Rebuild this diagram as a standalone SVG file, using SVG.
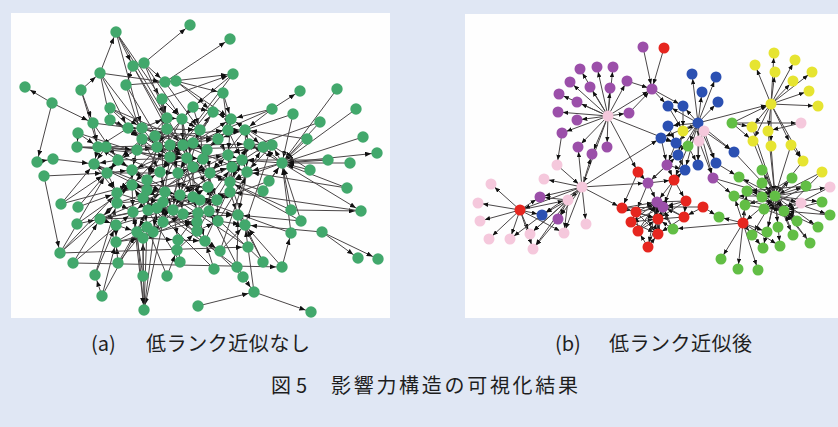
<svg xmlns="http://www.w3.org/2000/svg" width="838" height="427" viewBox="0 0 838 427">
<defs>
<marker id="ah" viewBox="0 0 6 5" markerWidth="6" markerHeight="5" refX="12" refY="2.5" orient="auto" markerUnits="userSpaceOnUse"><path d="M0,0 L6,2.5 L0,5 z" fill="#111"/></marker>
<marker id="ah2" viewBox="0 0 6 5" markerWidth="5.5" markerHeight="4.5" refX="11.5" refY="2.5" orient="auto" markerUnits="userSpaceOnUse"><path d="M0,0 L6,2.5 L0,5 z" fill="#111"/></marker>
</defs>
<style>
.bg{fill:#e0e7f4}
.panel{fill:#fefefe}
#edgesL line{stroke:#4a4647;stroke-width:1;marker-end:url(#ah)}
#edgesR line{stroke:#4a4647;stroke-width:1;marker-end:url(#ah2)}
.nl{fill:#42a86c}
.pk{fill:#f5c8dc}
.pu{fill:#9b4fa9}
.rd{fill:#e6261f}
.bl{fill:#2b50b2}
.ye{fill:#e6e431}
.gr{fill:#62be45}
.cap{font-family:"Noto Sans CJK JP","Noto Sans",sans-serif;font-size:20px;font-weight:400;fill:#1e1e1e}
</style>
<rect class="bg" x="0" y="0" width="838" height="427"/>
<rect class="panel" x="11" y="13" width="379" height="305"/>
<rect class="panel" x="465" y="14" width="373" height="304"/>

<g id="edgesL">
<line x1="144" y1="63" x2="190" y2="25"/>
<line x1="100" y1="73" x2="116" y2="32"/>
<line x1="116" y1="32" x2="133" y2="66"/>
<line x1="116" y1="32" x2="167" y2="118"/>
<line x1="116" y1="32" x2="142" y2="128"/>
<line x1="116" y1="32" x2="162" y2="99"/>
<line x1="165" y1="82" x2="230" y2="39"/>
<line x1="133" y1="66" x2="126" y2="85"/>
<line x1="133" y1="66" x2="167" y2="129"/>
<line x1="144" y1="63" x2="182" y2="119"/>
<line x1="144" y1="63" x2="167" y2="118"/>
<line x1="144" y1="63" x2="165" y2="82"/>
<line x1="100" y1="73" x2="165" y2="82"/>
<line x1="81" y1="90" x2="100" y2="73"/>
<line x1="100" y1="73" x2="142" y2="128"/>
<line x1="100" y1="73" x2="128" y2="128"/>
<line x1="100" y1="73" x2="110" y2="120"/>
<line x1="126" y1="85" x2="142" y2="139"/>
<line x1="126" y1="85" x2="176" y2="81"/>
<line x1="165" y1="82" x2="233" y2="74"/>
<line x1="165" y1="82" x2="200" y2="130"/>
<line x1="176" y1="81" x2="223" y2="93"/>
<line x1="176" y1="81" x2="231" y2="119"/>
<line x1="176" y1="81" x2="213" y2="112"/>
<line x1="162" y1="99" x2="233" y2="74"/>
<line x1="223" y1="93" x2="228" y2="130"/>
<line x1="233" y1="74" x2="193" y2="107"/>
<line x1="52" y1="103" x2="25" y2="87"/>
<line x1="52" y1="103" x2="93" y2="123"/>
<line x1="52" y1="103" x2="37" y2="162"/>
<line x1="81" y1="90" x2="98" y2="147"/>
<line x1="81" y1="90" x2="93" y2="123"/>
<line x1="272" y1="109" x2="300" y2="91"/>
<line x1="293" y1="114" x2="282" y2="163"/>
<line x1="337" y1="89" x2="282" y2="163"/>
<line x1="356" y1="109" x2="282" y2="163"/>
<line x1="363" y1="137" x2="282" y2="163"/>
<line x1="282" y1="163" x2="377" y2="153"/>
<line x1="320" y1="122" x2="282" y2="163"/>
<line x1="307" y1="139" x2="282" y2="163"/>
<line x1="272" y1="109" x2="245" y2="130"/>
<line x1="272" y1="109" x2="231" y2="119"/>
<line x1="193" y1="107" x2="200" y2="130"/>
<line x1="193" y1="107" x2="213" y2="112"/>
<line x1="193" y1="107" x2="182" y2="119"/>
<line x1="223" y1="93" x2="231" y2="119"/>
<line x1="162" y1="99" x2="167" y2="118"/>
<line x1="162" y1="99" x2="182" y2="119"/>
<line x1="162" y1="99" x2="167" y2="129"/>
<line x1="110" y1="108" x2="142" y2="128"/>
<line x1="110" y1="108" x2="142" y2="139"/>
<line x1="93" y1="123" x2="118" y2="160"/>
<line x1="93" y1="123" x2="98" y2="147"/>
<line x1="110" y1="120" x2="128" y2="128"/>
<line x1="110" y1="120" x2="142" y2="139"/>
<line x1="78" y1="133" x2="98" y2="147"/>
<line x1="78" y1="133" x2="77" y2="147"/>
<line x1="53" y1="159" x2="94" y2="164"/>
<line x1="37" y1="162" x2="53" y2="159"/>
<line x1="44" y1="176" x2="107" y2="173"/>
<line x1="44" y1="176" x2="60" y2="253"/>
<line x1="77" y1="147" x2="137" y2="150"/>
<line x1="77" y1="147" x2="106" y2="147"/>
<line x1="328" y1="160" x2="282" y2="163"/>
<line x1="350" y1="163" x2="282" y2="163"/>
<line x1="310" y1="170" x2="282" y2="163"/>
<line x1="347" y1="188" x2="282" y2="163"/>
<line x1="269" y1="181" x2="282" y2="163"/>
<line x1="263" y1="191" x2="282" y2="163"/>
<line x1="282" y1="163" x2="361" y2="211"/>
<line x1="291" y1="210" x2="282" y2="163"/>
<line x1="301" y1="221" x2="282" y2="163"/>
<line x1="291" y1="233" x2="282" y2="163"/>
<line x1="282" y1="163" x2="272" y2="145"/>
<line x1="282" y1="163" x2="263" y2="147"/>
<line x1="282" y1="163" x2="242" y2="160"/>
<line x1="282" y1="163" x2="247" y2="172"/>
<line x1="282" y1="163" x2="249" y2="144"/>
<line x1="291" y1="210" x2="361" y2="211"/>
<line x1="322" y1="232" x2="358" y2="258"/>
<line x1="322" y1="232" x2="378" y2="259"/>
<line x1="254" y1="292" x2="311" y2="312"/>
<line x1="198" y1="306" x2="254" y2="292"/>
<line x1="254" y1="292" x2="245" y2="225"/>
<line x1="243" y1="277" x2="254" y2="292"/>
<line x1="263" y1="262" x2="238" y2="215"/>
<line x1="263" y1="262" x2="245" y2="225"/>
<line x1="282" y1="267" x2="291" y2="233"/>
<line x1="282" y1="267" x2="245" y2="225"/>
<line x1="237" y1="267" x2="238" y2="215"/>
<line x1="243" y1="277" x2="209" y2="211"/>
<line x1="214" y1="269" x2="205" y2="241"/>
<line x1="180" y1="262" x2="178" y2="240"/>
<line x1="167" y1="276" x2="177" y2="250"/>
<line x1="143" y1="276" x2="143" y2="238"/>
<line x1="137" y1="232" x2="144" y2="310"/>
<line x1="147" y1="227" x2="144" y2="310"/>
<line x1="163" y1="222" x2="144" y2="310"/>
<line x1="133" y1="212" x2="144" y2="310"/>
<line x1="143" y1="238" x2="144" y2="310"/>
<line x1="102" y1="296" x2="137" y2="232"/>
<line x1="102" y1="296" x2="95" y2="275"/>
<line x1="118" y1="263" x2="116" y2="242"/>
<line x1="118" y1="263" x2="147" y2="227"/>
<line x1="95" y1="275" x2="116" y2="225"/>
<line x1="73" y1="263" x2="100" y2="219"/>
<line x1="60" y1="253" x2="117" y2="203"/>
<line x1="60" y1="253" x2="107" y2="173"/>
<line x1="61" y1="204" x2="107" y2="173"/>
<line x1="61" y1="204" x2="132" y2="185"/>
<line x1="78" y1="207" x2="117" y2="193"/>
<line x1="77" y1="224" x2="100" y2="219"/>
<line x1="73" y1="263" x2="282" y2="267"/>
<line x1="60" y1="253" x2="248" y2="247"/>
<line x1="142" y1="128" x2="247" y2="172"/>
<line x1="167" y1="118" x2="208" y2="187"/>
<line x1="142" y1="139" x2="217" y2="200"/>
<line x1="118" y1="160" x2="218" y2="221"/>
<line x1="98" y1="147" x2="249" y2="144"/>
<line x1="137" y1="150" x2="263" y2="147"/>
<line x1="132" y1="170" x2="272" y2="145"/>
<line x1="117" y1="193" x2="242" y2="160"/>
<line x1="117" y1="203" x2="232" y2="167"/>
<line x1="100" y1="219" x2="238" y2="215"/>
<line x1="116" y1="225" x2="230" y2="192"/>
<line x1="116" y1="242" x2="208" y2="187"/>
<line x1="143" y1="238" x2="209" y2="211"/>
<line x1="132" y1="185" x2="220" y2="251"/>
<line x1="78" y1="133" x2="230" y2="182"/>
<line x1="77" y1="147" x2="203" y2="159"/>
<line x1="93" y1="123" x2="218" y2="139"/>
<line x1="110" y1="108" x2="207" y2="150"/>
<line x1="110" y1="120" x2="210" y2="173"/>
<line x1="126" y1="85" x2="193" y2="197"/>
<line x1="133" y1="66" x2="193" y2="167"/>
<line x1="162" y1="99" x2="163" y2="202"/>
<line x1="193" y1="107" x2="117" y2="193"/>
<line x1="223" y1="93" x2="160" y2="172"/>
<line x1="233" y1="74" x2="170" y2="157"/>
<line x1="272" y1="109" x2="132" y2="170"/>
<line x1="293" y1="114" x2="218" y2="139"/>
<line x1="320" y1="122" x2="228" y2="155"/>
<line x1="307" y1="139" x2="245" y2="130"/>
<line x1="328" y1="160" x2="242" y2="160"/>
<line x1="310" y1="170" x2="231" y2="119"/>
<line x1="269" y1="181" x2="217" y2="200"/>
<line x1="263" y1="191" x2="193" y2="167"/>
<line x1="291" y1="210" x2="210" y2="173"/>
<line x1="301" y1="221" x2="230" y2="182"/>
<line x1="291" y1="233" x2="200" y2="200"/>
<line x1="248" y1="247" x2="165" y2="192"/>
<line x1="263" y1="262" x2="209" y2="211"/>
<line x1="237" y1="267" x2="157" y2="208"/>
<line x1="243" y1="277" x2="163" y2="202"/>
<line x1="214" y1="269" x2="143" y2="198"/>
<line x1="180" y1="262" x2="132" y2="185"/>
<line x1="167" y1="276" x2="147" y2="227"/>
<line x1="143" y1="276" x2="133" y2="212"/>
<line x1="144" y1="310" x2="157" y2="208"/>
<line x1="102" y1="296" x2="116" y2="242"/>
<line x1="118" y1="263" x2="148" y2="210"/>
<line x1="95" y1="275" x2="117" y2="203"/>
<line x1="73" y1="263" x2="133" y2="212"/>
<line x1="60" y1="253" x2="117" y2="193"/>
<line x1="77" y1="224" x2="132" y2="185"/>
<line x1="78" y1="207" x2="118" y2="160"/>
<line x1="61" y1="204" x2="94" y2="164"/>
<line x1="282" y1="163" x2="230" y2="182"/>
<line x1="347" y1="188" x2="247" y2="172"/>
<line x1="301" y1="221" x2="238" y2="215"/>
<line x1="322" y1="232" x2="245" y2="225"/>
<line x1="361" y1="211" x2="230" y2="192"/>
<line x1="142" y1="128" x2="142" y2="139"/>
<line x1="142" y1="128" x2="167" y2="118"/>
<line x1="142" y1="128" x2="157" y2="147"/>
<line x1="142" y1="128" x2="132" y2="170"/>
<line x1="142" y1="128" x2="200" y2="130"/>
<line x1="167" y1="118" x2="182" y2="119"/>
<line x1="167" y1="118" x2="167" y2="129"/>
<line x1="167" y1="118" x2="170" y2="157"/>
<line x1="167" y1="118" x2="147" y2="180"/>
<line x1="182" y1="119" x2="200" y2="130"/>
<line x1="182" y1="119" x2="183" y2="145"/>
<line x1="182" y1="119" x2="187" y2="158"/>
<line x1="182" y1="119" x2="193" y2="167"/>
<line x1="200" y1="130" x2="213" y2="112"/>
<line x1="200" y1="130" x2="193" y2="143"/>
<line x1="200" y1="130" x2="203" y2="159"/>
<line x1="200" y1="130" x2="180" y2="195"/>
<line x1="218" y1="139" x2="228" y2="130"/>
<line x1="218" y1="139" x2="207" y2="150"/>
<line x1="218" y1="139" x2="228" y2="155"/>
<line x1="218" y1="139" x2="232" y2="167"/>
<line x1="228" y1="130" x2="245" y2="130"/>
<line x1="228" y1="130" x2="231" y2="119"/>
<line x1="228" y1="130" x2="242" y2="160"/>
<line x1="245" y1="130" x2="249" y2="144"/>
<line x1="245" y1="130" x2="263" y2="147"/>
<line x1="245" y1="130" x2="247" y2="172"/>
<line x1="249" y1="144" x2="272" y2="145"/>
<line x1="249" y1="144" x2="242" y2="160"/>
<line x1="249" y1="144" x2="230" y2="182"/>
<line x1="263" y1="147" x2="232" y2="167"/>
<line x1="272" y1="145" x2="247" y2="172"/>
<line x1="231" y1="119" x2="213" y2="112"/>
<line x1="231" y1="119" x2="228" y2="155"/>
<line x1="213" y1="112" x2="193" y2="143"/>
<line x1="142" y1="139" x2="137" y2="150"/>
<line x1="142" y1="139" x2="118" y2="160"/>
<line x1="142" y1="139" x2="160" y2="172"/>
<line x1="167" y1="129" x2="183" y2="145"/>
<line x1="167" y1="129" x2="157" y2="147"/>
<line x1="167" y1="129" x2="178" y2="173"/>
<line x1="183" y1="145" x2="193" y2="143"/>
<line x1="183" y1="145" x2="170" y2="157"/>
<line x1="183" y1="145" x2="193" y2="197"/>
<line x1="193" y1="143" x2="207" y2="150"/>
<line x1="193" y1="143" x2="187" y2="158"/>
<line x1="207" y1="150" x2="203" y2="159"/>
<line x1="207" y1="150" x2="210" y2="173"/>
<line x1="137" y1="150" x2="157" y2="147"/>
<line x1="137" y1="150" x2="118" y2="160"/>
<line x1="137" y1="150" x2="132" y2="170"/>
<line x1="157" y1="147" x2="170" y2="157"/>
<line x1="157" y1="147" x2="147" y2="180"/>
<line x1="157" y1="147" x2="143" y2="198"/>
<line x1="170" y1="157" x2="187" y2="158"/>
<line x1="170" y1="157" x2="160" y2="172"/>
<line x1="170" y1="157" x2="163" y2="202"/>
<line x1="187" y1="158" x2="203" y2="159"/>
<line x1="187" y1="158" x2="178" y2="173"/>
<line x1="187" y1="158" x2="200" y2="200"/>
<line x1="203" y1="159" x2="228" y2="155"/>
<line x1="203" y1="159" x2="193" y2="167"/>
<line x1="203" y1="159" x2="217" y2="200"/>
<line x1="228" y1="155" x2="242" y2="160"/>
<line x1="228" y1="155" x2="210" y2="173"/>
<line x1="228" y1="155" x2="230" y2="192"/>
<line x1="242" y1="160" x2="247" y2="172"/>
<line x1="242" y1="160" x2="230" y2="182"/>
<line x1="118" y1="160" x2="98" y2="147"/>
<line x1="118" y1="160" x2="94" y2="164"/>
<line x1="118" y1="160" x2="107" y2="173"/>
<line x1="118" y1="160" x2="132" y2="170"/>
<line x1="98" y1="147" x2="94" y2="164"/>
<line x1="94" y1="164" x2="107" y2="173"/>
<line x1="94" y1="164" x2="117" y2="193"/>
<line x1="107" y1="173" x2="117" y2="193"/>
<line x1="107" y1="173" x2="132" y2="170"/>
<line x1="132" y1="170" x2="147" y2="180"/>
<line x1="132" y1="170" x2="132" y2="185"/>
<line x1="147" y1="180" x2="160" y2="172"/>
<line x1="147" y1="180" x2="147" y2="190"/>
<line x1="147" y1="180" x2="148" y2="210"/>
<line x1="160" y1="172" x2="178" y2="173"/>
<line x1="160" y1="172" x2="165" y2="192"/>
<line x1="178" y1="173" x2="193" y2="167"/>
<line x1="178" y1="173" x2="180" y2="195"/>
<line x1="178" y1="173" x2="173" y2="210"/>
<line x1="193" y1="167" x2="210" y2="173"/>
<line x1="193" y1="167" x2="193" y2="197"/>
<line x1="210" y1="173" x2="232" y2="167"/>
<line x1="210" y1="173" x2="208" y2="187"/>
<line x1="210" y1="173" x2="209" y2="211"/>
<line x1="232" y1="167" x2="247" y2="172"/>
<line x1="232" y1="167" x2="230" y2="192"/>
<line x1="247" y1="172" x2="230" y2="182"/>
<line x1="247" y1="172" x2="238" y2="215"/>
<line x1="230" y1="182" x2="245" y2="225"/>
<line x1="132" y1="185" x2="147" y2="190"/>
<line x1="132" y1="185" x2="117" y2="193"/>
<line x1="132" y1="185" x2="133" y2="212"/>
<line x1="147" y1="190" x2="165" y2="192"/>
<line x1="147" y1="190" x2="143" y2="198"/>
<line x1="147" y1="190" x2="148" y2="210"/>
<line x1="165" y1="192" x2="180" y2="195"/>
<line x1="165" y1="192" x2="163" y2="202"/>
<line x1="165" y1="192" x2="173" y2="210"/>
<line x1="180" y1="195" x2="193" y2="197"/>
<line x1="180" y1="195" x2="183" y2="214"/>
<line x1="193" y1="197" x2="208" y2="187"/>
<line x1="193" y1="197" x2="200" y2="200"/>
<line x1="193" y1="197" x2="198" y2="213"/>
<line x1="208" y1="187" x2="217" y2="200"/>
<line x1="117" y1="193" x2="117" y2="203"/>
<line x1="117" y1="203" x2="100" y2="219"/>
<line x1="117" y1="203" x2="133" y2="212"/>
<line x1="143" y1="198" x2="163" y2="202"/>
<line x1="143" y1="198" x2="147" y2="227"/>
<line x1="163" y1="202" x2="200" y2="200"/>
<line x1="163" y1="202" x2="163" y2="222"/>
<line x1="200" y1="200" x2="217" y2="200"/>
<line x1="200" y1="200" x2="197" y2="222"/>
<line x1="217" y1="200" x2="230" y2="192"/>
<line x1="217" y1="200" x2="218" y2="221"/>
<line x1="230" y1="192" x2="238" y2="215"/>
<line x1="148" y1="210" x2="157" y2="208"/>
<line x1="148" y1="210" x2="137" y2="232"/>
<line x1="157" y1="208" x2="173" y2="210"/>
<line x1="157" y1="208" x2="153" y2="232"/>
<line x1="173" y1="210" x2="183" y2="214"/>
<line x1="173" y1="210" x2="178" y2="240"/>
<line x1="183" y1="214" x2="198" y2="213"/>
<line x1="183" y1="214" x2="197" y2="231"/>
<line x1="198" y1="213" x2="209" y2="211"/>
<line x1="198" y1="213" x2="205" y2="241"/>
<line x1="209" y1="211" x2="238" y2="215"/>
<line x1="209" y1="211" x2="218" y2="221"/>
<line x1="238" y1="215" x2="245" y2="225"/>
<line x1="133" y1="212" x2="100" y2="219"/>
<line x1="133" y1="212" x2="137" y2="232"/>
<line x1="100" y1="219" x2="116" y2="225"/>
<line x1="116" y1="225" x2="137" y2="232"/>
<line x1="116" y1="225" x2="116" y2="242"/>
<line x1="137" y1="232" x2="147" y2="227"/>
<line x1="147" y1="227" x2="153" y2="232"/>
<line x1="153" y1="232" x2="163" y2="222"/>
<line x1="163" y1="222" x2="197" y2="222"/>
<line x1="197" y1="222" x2="197" y2="231"/>
<line x1="197" y1="231" x2="218" y2="221"/>
<line x1="218" y1="221" x2="245" y2="225"/>
<line x1="116" y1="242" x2="143" y2="238"/>
<line x1="143" y1="238" x2="178" y2="240"/>
<line x1="178" y1="240" x2="205" y2="241"/>
<line x1="205" y1="241" x2="220" y2="251"/>
<line x1="220" y1="251" x2="245" y2="225"/>
<line x1="177" y1="250" x2="197" y2="231"/>
<line x1="128" y1="128" x2="142" y2="128"/>
<line x1="128" y1="128" x2="142" y2="139"/>
<line x1="128" y1="128" x2="98" y2="147"/>
<line x1="155" y1="136" x2="167" y2="129"/>
<line x1="155" y1="136" x2="157" y2="147"/>
<line x1="170" y1="145" x2="183" y2="145"/>
<line x1="170" y1="145" x2="170" y2="157"/>
<line x1="106" y1="147" x2="137" y2="150"/>
<line x1="106" y1="147" x2="94" y2="164"/>
<line x1="167" y1="118" x2="137" y2="150"/>
<line x1="182" y1="119" x2="147" y2="180"/>
<line x1="200" y1="130" x2="160" y2="172"/>
<line x1="213" y1="112" x2="178" y2="173"/>
<line x1="231" y1="119" x2="193" y2="167"/>
<line x1="245" y1="130" x2="210" y2="173"/>
<line x1="142" y1="128" x2="193" y2="143"/>
<line x1="118" y1="160" x2="187" y2="158"/>
<line x1="107" y1="173" x2="178" y2="173"/>
<line x1="132" y1="185" x2="208" y2="187"/>
<line x1="117" y1="203" x2="193" y2="197"/>
<line x1="148" y1="210" x2="217" y2="200"/>
<line x1="137" y1="232" x2="209" y2="211"/>
<line x1="116" y1="242" x2="197" y2="222"/>
<line x1="153" y1="232" x2="230" y2="192"/>
<line x1="178" y1="240" x2="232" y2="167"/>
<line x1="205" y1="241" x2="242" y2="160"/>
<line x1="220" y1="251" x2="247" y2="172"/>
<line x1="98" y1="147" x2="160" y2="172"/>
<line x1="94" y1="164" x2="147" y2="190"/>
<line x1="100" y1="219" x2="165" y2="192"/>
<line x1="143" y1="238" x2="183" y2="214"/>
<line x1="163" y1="222" x2="228" y2="155"/>
<line x1="197" y1="231" x2="249" y2="144"/>
<line x1="218" y1="221" x2="263" y2="147"/>
<line x1="245" y1="225" x2="272" y2="145"/>
<line x1="142" y1="139" x2="228" y2="130"/>
<line x1="137" y1="150" x2="218" y2="139"/>
<line x1="157" y1="147" x2="245" y2="130"/>
<line x1="170" y1="157" x2="231" y2="119"/>
<line x1="155" y1="136" x2="210" y2="173"/>
<line x1="170" y1="145" x2="132" y2="185"/>
<line x1="183" y1="145" x2="148" y2="210"/>
<line x1="193" y1="143" x2="163" y2="222"/>
<line x1="207" y1="150" x2="173" y2="210"/>
<line x1="128" y1="128" x2="187" y2="158"/>
<line x1="106" y1="147" x2="170" y2="157"/>
<line x1="94" y1="164" x2="165" y2="192"/>
<line x1="117" y1="193" x2="183" y2="214"/>
<line x1="100" y1="219" x2="157" y2="208"/>
<line x1="203" y1="159" x2="133" y2="212"/>
<line x1="228" y1="155" x2="143" y2="198"/>
<line x1="242" y1="160" x2="180" y2="195"/>
</g>

<g id="edgesR">
<line x1="608" y1="116" x2="580" y2="69"/>
<line x1="608" y1="116" x2="597" y2="67"/>
<line x1="608" y1="116" x2="613" y2="67"/>
<line x1="608" y1="116" x2="570" y2="82"/>
<line x1="608" y1="116" x2="590" y2="87"/>
<line x1="608" y1="116" x2="610" y2="88"/>
<line x1="608" y1="116" x2="627" y2="81"/>
<line x1="608" y1="116" x2="559" y2="94"/>
<line x1="608" y1="116" x2="577" y2="102"/>
<line x1="608" y1="116" x2="558" y2="112"/>
<line x1="608" y1="116" x2="577" y2="120"/>
<line x1="608" y1="116" x2="629" y2="113"/>
<line x1="608" y1="116" x2="562" y2="133"/>
<line x1="608" y1="116" x2="578" y2="147"/>
<line x1="608" y1="116" x2="592" y2="154"/>
<line x1="608" y1="116" x2="607" y2="147"/>
<line x1="608" y1="116" x2="652" y2="89"/>
<line x1="643" y1="47" x2="652" y2="89"/>
<line x1="664" y1="48" x2="652" y2="89"/>
<line x1="627" y1="81" x2="652" y2="89"/>
<line x1="629" y1="113" x2="652" y2="89"/>
<line x1="608" y1="116" x2="582" y2="187"/>
<line x1="608" y1="116" x2="638" y2="172"/>
<line x1="608" y1="116" x2="676" y2="143"/>
<line x1="652" y1="89" x2="683" y2="106"/>
<line x1="652" y1="89" x2="668" y2="106"/>
<line x1="562" y1="133" x2="557" y2="165"/>
<line x1="557" y1="165" x2="582" y2="187"/>
<line x1="582" y1="187" x2="544" y2="179"/>
<line x1="582" y1="187" x2="568" y2="200"/>
<line x1="582" y1="187" x2="564" y2="233"/>
<line x1="582" y1="187" x2="586" y2="224"/>
<line x1="582" y1="187" x2="530" y2="234"/>
<line x1="582" y1="187" x2="520" y2="210"/>
<line x1="582" y1="187" x2="540" y2="197"/>
<line x1="582" y1="187" x2="558" y2="219"/>
<line x1="582" y1="187" x2="542" y2="215"/>
<line x1="582" y1="187" x2="622" y2="208"/>
<line x1="582" y1="187" x2="661" y2="138"/>
<line x1="582" y1="187" x2="578" y2="147"/>
<line x1="582" y1="187" x2="592" y2="154"/>
<line x1="582" y1="187" x2="648" y2="183"/>
<line x1="520" y1="210" x2="491" y2="184"/>
<line x1="520" y1="210" x2="478" y2="203"/>
<line x1="520" y1="210" x2="480" y2="221"/>
<line x1="520" y1="210" x2="489" y2="239"/>
<line x1="520" y1="210" x2="510" y2="239"/>
<line x1="520" y1="210" x2="530" y2="234"/>
<line x1="520" y1="210" x2="533" y2="249"/>
<line x1="520" y1="210" x2="540" y2="197"/>
<line x1="520" y1="210" x2="542" y2="215"/>
<line x1="520" y1="210" x2="568" y2="200"/>
<line x1="520" y1="210" x2="564" y2="233"/>
<line x1="568" y1="200" x2="530" y2="234"/>
<line x1="568" y1="200" x2="533" y2="249"/>
<line x1="568" y1="200" x2="564" y2="233"/>
<line x1="568" y1="200" x2="558" y2="219"/>
<line x1="568" y1="200" x2="542" y2="215"/>
<line x1="568" y1="200" x2="540" y2="197"/>
<line x1="558" y1="219" x2="533" y2="249"/>
<line x1="542" y1="215" x2="510" y2="239"/>
<line x1="638" y1="172" x2="648" y2="183"/>
<line x1="638" y1="172" x2="622" y2="208"/>
<line x1="648" y1="183" x2="657" y2="202"/>
<line x1="648" y1="183" x2="636" y2="212"/>
<line x1="648" y1="183" x2="674" y2="180"/>
<line x1="667" y1="165" x2="674" y2="180"/>
<line x1="667" y1="165" x2="648" y2="183"/>
<line x1="674" y1="180" x2="663" y2="207"/>
<line x1="674" y1="180" x2="686" y2="201"/>
<line x1="674" y1="180" x2="657" y2="202"/>
<line x1="622" y1="208" x2="636" y2="212"/>
<line x1="622" y1="208" x2="657" y2="202"/>
<line x1="622" y1="208" x2="658" y2="219"/>
<line x1="636" y1="212" x2="657" y2="202"/>
<line x1="636" y1="212" x2="658" y2="219"/>
<line x1="636" y1="212" x2="663" y2="207"/>
<line x1="658" y1="219" x2="663" y2="207"/>
<line x1="631" y1="222" x2="636" y2="212"/>
<line x1="631" y1="222" x2="657" y2="202"/>
<line x1="631" y1="222" x2="658" y2="219"/>
<line x1="631" y1="222" x2="663" y2="207"/>
<line x1="638" y1="231" x2="657" y2="202"/>
<line x1="638" y1="231" x2="658" y2="219"/>
<line x1="638" y1="231" x2="636" y2="212"/>
<line x1="638" y1="231" x2="663" y2="207"/>
<line x1="658" y1="234" x2="663" y2="207"/>
<line x1="658" y1="234" x2="658" y2="219"/>
<line x1="658" y1="234" x2="657" y2="202"/>
<line x1="648" y1="247" x2="658" y2="234"/>
<line x1="648" y1="247" x2="638" y2="231"/>
<line x1="648" y1="247" x2="658" y2="219"/>
<line x1="686" y1="201" x2="663" y2="207"/>
<line x1="686" y1="201" x2="657" y2="202"/>
<line x1="686" y1="201" x2="658" y2="219"/>
<line x1="684" y1="217" x2="663" y2="207"/>
<line x1="684" y1="217" x2="658" y2="219"/>
<line x1="684" y1="217" x2="657" y2="202"/>
<line x1="703" y1="207" x2="684" y2="217"/>
<line x1="703" y1="207" x2="663" y2="207"/>
<line x1="673" y1="229" x2="658" y2="219"/>
<line x1="673" y1="229" x2="663" y2="207"/>
<line x1="673" y1="229" x2="657" y2="202"/>
<line x1="743" y1="223" x2="673" y2="229"/>
<line x1="648" y1="183" x2="678" y2="155"/>
<line x1="667" y1="165" x2="685" y2="170"/>
<line x1="674" y1="180" x2="685" y2="170"/>
<line x1="684" y1="217" x2="658" y2="234"/>
<line x1="686" y1="201" x2="684" y2="217"/>
<line x1="622" y1="208" x2="663" y2="207"/>
<line x1="631" y1="222" x2="658" y2="234"/>
<line x1="636" y1="212" x2="658" y2="234"/>
<line x1="657" y1="202" x2="648" y2="247"/>
<line x1="698" y1="123" x2="692" y2="74"/>
<line x1="698" y1="123" x2="716" y2="77"/>
<line x1="698" y1="123" x2="702" y2="92"/>
<line x1="698" y1="123" x2="718" y2="102"/>
<line x1="698" y1="123" x2="668" y2="106"/>
<line x1="698" y1="123" x2="683" y2="106"/>
<line x1="698" y1="123" x2="668" y2="126"/>
<line x1="698" y1="123" x2="683" y2="131"/>
<line x1="698" y1="123" x2="704" y2="131"/>
<line x1="698" y1="123" x2="699" y2="141"/>
<line x1="698" y1="123" x2="688" y2="146"/>
<line x1="698" y1="123" x2="661" y2="138"/>
<line x1="698" y1="123" x2="676" y2="143"/>
<line x1="698" y1="123" x2="678" y2="155"/>
<line x1="698" y1="123" x2="698" y2="165"/>
<line x1="698" y1="123" x2="716" y2="163"/>
<line x1="698" y1="123" x2="685" y2="170"/>
<line x1="698" y1="123" x2="734" y2="152"/>
<line x1="698" y1="123" x2="713" y2="178"/>
<line x1="698" y1="123" x2="771" y2="104"/>
<line x1="668" y1="106" x2="683" y2="131"/>
<line x1="668" y1="126" x2="676" y2="143"/>
<line x1="661" y1="138" x2="676" y2="143"/>
<line x1="683" y1="106" x2="683" y2="131"/>
<line x1="704" y1="131" x2="734" y2="152"/>
<line x1="704" y1="131" x2="716" y2="163"/>
<line x1="699" y1="141" x2="698" y2="165"/>
<line x1="699" y1="141" x2="713" y2="178"/>
<line x1="683" y1="131" x2="678" y2="155"/>
<line x1="688" y1="146" x2="698" y2="165"/>
<line x1="678" y1="155" x2="685" y2="170"/>
<line x1="676" y1="143" x2="667" y2="165"/>
<line x1="661" y1="138" x2="667" y2="165"/>
<line x1="713" y1="178" x2="775" y2="196"/>
<line x1="716" y1="163" x2="739" y2="177"/>
<line x1="713" y1="178" x2="734" y2="196"/>
<line x1="734" y1="152" x2="775" y2="196"/>
<line x1="688" y1="146" x2="674" y2="180"/>
<line x1="771" y1="104" x2="755" y2="65"/>
<line x1="771" y1="104" x2="774" y2="53"/>
<line x1="771" y1="104" x2="795" y2="60"/>
<line x1="771" y1="104" x2="775" y2="72"/>
<line x1="771" y1="104" x2="812" y2="72"/>
<line x1="771" y1="104" x2="793" y2="81"/>
<line x1="771" y1="104" x2="809" y2="91"/>
<line x1="771" y1="104" x2="818" y2="106"/>
<line x1="771" y1="104" x2="752" y2="127"/>
<line x1="771" y1="104" x2="768" y2="131"/>
<line x1="771" y1="104" x2="753" y2="141"/>
<line x1="771" y1="104" x2="771" y2="146"/>
<line x1="771" y1="104" x2="791" y2="145"/>
<line x1="771" y1="104" x2="803" y2="161"/>
<line x1="732" y1="123" x2="771" y2="104"/>
<line x1="732" y1="123" x2="752" y2="127"/>
<line x1="732" y1="123" x2="753" y2="141"/>
<line x1="732" y1="123" x2="801" y2="123"/>
<line x1="801" y1="123" x2="768" y2="131"/>
<line x1="752" y1="127" x2="775" y2="196"/>
<line x1="768" y1="131" x2="775" y2="196"/>
<line x1="753" y1="141" x2="775" y2="196"/>
<line x1="771" y1="146" x2="775" y2="196"/>
<line x1="791" y1="145" x2="775" y2="196"/>
<line x1="803" y1="161" x2="775" y2="196"/>
<line x1="822" y1="172" x2="775" y2="196"/>
<line x1="791" y1="145" x2="803" y2="161"/>
<line x1="775" y1="196" x2="739" y2="177"/>
<line x1="775" y1="196" x2="762" y2="170"/>
<line x1="775" y1="196" x2="762" y2="183"/>
<line x1="775" y1="196" x2="792" y2="178"/>
<line x1="775" y1="196" x2="806" y2="186"/>
<line x1="775" y1="196" x2="734" y2="196"/>
<line x1="775" y1="196" x2="747" y2="191"/>
<line x1="775" y1="196" x2="762" y2="197"/>
<line x1="775" y1="196" x2="745" y2="205"/>
<line x1="775" y1="196" x2="764" y2="209"/>
<line x1="775" y1="196" x2="784" y2="211"/>
<line x1="775" y1="196" x2="797" y2="221"/>
<line x1="775" y1="196" x2="822" y2="202"/>
<line x1="775" y1="196" x2="830" y2="215"/>
<line x1="775" y1="196" x2="830" y2="187"/>
<line x1="775" y1="196" x2="801" y2="203"/>
<line x1="775" y1="196" x2="818" y2="227"/>
<line x1="775" y1="196" x2="793" y2="235"/>
<line x1="775" y1="196" x2="810" y2="243"/>
<line x1="775" y1="196" x2="780" y2="246"/>
<line x1="775" y1="196" x2="763" y2="248"/>
<line x1="775" y1="196" x2="752" y2="235"/>
<line x1="775" y1="196" x2="767" y2="232"/>
<line x1="775" y1="196" x2="778" y2="227"/>
<line x1="775" y1="196" x2="743" y2="223"/>
<line x1="762" y1="183" x2="784" y2="211"/>
<line x1="762" y1="197" x2="784" y2="211"/>
<line x1="747" y1="191" x2="784" y2="211"/>
<line x1="764" y1="209" x2="797" y2="221"/>
<line x1="745" y1="205" x2="784" y2="211"/>
<line x1="734" y1="196" x2="784" y2="211"/>
<line x1="739" y1="177" x2="797" y2="221"/>
<line x1="762" y1="170" x2="784" y2="211"/>
<line x1="792" y1="178" x2="764" y2="209"/>
<line x1="806" y1="186" x2="764" y2="209"/>
<line x1="822" y1="202" x2="784" y2="211"/>
<line x1="801" y1="203" x2="764" y2="209"/>
<line x1="797" y1="221" x2="762" y2="197"/>
<line x1="818" y1="227" x2="784" y2="211"/>
<line x1="793" y1="235" x2="784" y2="211"/>
<line x1="810" y1="243" x2="784" y2="211"/>
<line x1="830" y1="215" x2="784" y2="211"/>
<line x1="830" y1="187" x2="784" y2="211"/>
<line x1="792" y1="178" x2="762" y2="197"/>
<line x1="806" y1="186" x2="747" y2="191"/>
<line x1="822" y1="172" x2="784" y2="211"/>
<line x1="743" y1="223" x2="721" y2="259"/>
<line x1="743" y1="223" x2="738" y2="269"/>
<line x1="743" y1="223" x2="758" y2="270"/>
<line x1="743" y1="223" x2="719" y2="217"/>
<line x1="743" y1="223" x2="752" y2="235"/>
<line x1="743" y1="223" x2="763" y2="248"/>
<line x1="743" y1="223" x2="745" y2="205"/>
<line x1="743" y1="223" x2="734" y2="196"/>
<line x1="743" y1="223" x2="747" y2="191"/>
<line x1="743" y1="223" x2="780" y2="246"/>
<line x1="743" y1="223" x2="767" y2="232"/>
<line x1="703" y1="207" x2="719" y2="217"/>
</g>

<g id="nodesL">
<g id="a1"><circle class="nl" cx="190" cy="25" r="5.7"/></g>
<g id="a2"><circle class="nl" cx="116" cy="32" r="5.7"/></g>
<g id="a3"><circle class="nl" cx="230" cy="39" r="5.7"/></g>
<g id="a4"><circle class="nl" cx="133" cy="66" r="5.7"/></g>
<g id="a5"><circle class="nl" cx="144" cy="63" r="5.7"/></g>
<g id="a6"><circle class="nl" cx="100" cy="73" r="5.7"/></g>
<g id="a7"><circle class="nl" cx="126" cy="85" r="5.7"/></g>
<g id="a8"><circle class="nl" cx="165" cy="82" r="5.7"/></g>
<g id="a9"><circle class="nl" cx="176" cy="81" r="5.7"/></g>
<g id="a10"><circle class="nl" cx="233" cy="74" r="5.7"/></g>
<g id="a11"><circle class="nl" cx="25" cy="87" r="5.7"/></g>
<g id="a12"><circle class="nl" cx="81" cy="90" r="5.7"/></g>
<g id="a13"><circle class="nl" cx="52" cy="103" r="5.7"/></g>
<g id="a14"><circle class="nl" cx="223" cy="93" r="5.7"/></g>
<g id="a15"><circle class="nl" cx="300" cy="91" r="5.7"/></g>
<g id="a16"><circle class="nl" cx="337" cy="89" r="5.7"/></g>
<g id="a17"><circle class="nl" cx="162" cy="99" r="5.7"/></g>
<g id="a18"><circle class="nl" cx="193" cy="107" r="5.7"/></g>
<g id="a19"><circle class="nl" cx="110" cy="108" r="5.7"/></g>
<g id="a20"><circle class="nl" cx="272" cy="109" r="5.7"/></g>
<g id="a21"><circle class="nl" cx="293" cy="114" r="5.7"/></g>
<g id="a22"><circle class="nl" cx="356" cy="109" r="5.7"/></g>
<g id="a23"><circle class="nl" cx="93" cy="123" r="5.7"/></g>
<g id="a24"><circle class="nl" cx="110" cy="120" r="5.7"/></g>
<g id="a25"><circle class="nl" cx="320" cy="122" r="5.7"/></g>
<g id="a26"><circle class="nl" cx="78" cy="133" r="5.7"/></g>
<g id="a27"><circle class="nl" cx="363" cy="137" r="5.7"/></g>
<g id="a28"><circle class="nl" cx="307" cy="139" r="5.7"/></g>
<g id="a29"><circle class="nl" cx="377" cy="153" r="5.7"/></g>
<g id="a30"><circle class="nl" cx="37" cy="162" r="5.7"/></g>
<g id="a31"><circle class="nl" cx="53" cy="159" r="5.7"/></g>
<g id="a32"><circle class="nl" cx="44" cy="176" r="5.7"/></g>
<g id="a33"><circle class="nl" cx="77" cy="147" r="5.7"/></g>
<g id="a34"><circle class="nl" cx="282" cy="163" r="5.7"/></g>
<g id="a35"><circle class="nl" cx="328" cy="160" r="5.7"/></g>
<g id="a36"><circle class="nl" cx="350" cy="163" r="5.7"/></g>
<g id="a37"><circle class="nl" cx="310" cy="170" r="5.7"/></g>
<g id="a38"><circle class="nl" cx="347" cy="188" r="5.7"/></g>
<g id="a39"><circle class="nl" cx="269" cy="181" r="5.7"/></g>
<g id="a40"><circle class="nl" cx="263" cy="191" r="5.7"/></g>
<g id="a41"><circle class="nl" cx="361" cy="211" r="5.7"/></g>
<g id="a42"><circle class="nl" cx="291" cy="210" r="5.7"/></g>
<g id="a43"><circle class="nl" cx="301" cy="221" r="5.7"/></g>
<g id="a44"><circle class="nl" cx="322" cy="232" r="5.7"/></g>
<g id="a45"><circle class="nl" cx="291" cy="233" r="5.7"/></g>
<g id="a46"><circle class="nl" cx="61" cy="204" r="5.7"/></g>
<g id="a47"><circle class="nl" cx="78" cy="207" r="5.7"/></g>
<g id="a48"><circle class="nl" cx="77" cy="224" r="5.7"/></g>
<g id="a49"><circle class="nl" cx="60" cy="253" r="5.7"/></g>
<g id="a50"><circle class="nl" cx="73" cy="263" r="5.7"/></g>
<g id="a51"><circle class="nl" cx="95" cy="275" r="5.7"/></g>
<g id="a52"><circle class="nl" cx="118" cy="263" r="5.7"/></g>
<g id="a53"><circle class="nl" cx="102" cy="296" r="5.7"/></g>
<g id="a54"><circle class="nl" cx="144" cy="310" r="5.7"/></g>
<g id="a55"><circle class="nl" cx="143" cy="276" r="5.7"/></g>
<g id="a56"><circle class="nl" cx="167" cy="276" r="5.7"/></g>
<g id="a57"><circle class="nl" cx="180" cy="262" r="5.7"/></g>
<g id="a58"><circle class="nl" cx="198" cy="306" r="5.7"/></g>
<g id="a59"><circle class="nl" cx="214" cy="269" r="5.7"/></g>
<g id="a60"><circle class="nl" cx="237" cy="267" r="5.7"/></g>
<g id="a61"><circle class="nl" cx="243" cy="277" r="5.7"/></g>
<g id="a62"><circle class="nl" cx="254" cy="292" r="5.7"/></g>
<g id="a63"><circle class="nl" cx="263" cy="262" r="5.7"/></g>
<g id="a64"><circle class="nl" cx="282" cy="267" r="5.7"/></g>
<g id="a65"><circle class="nl" cx="248" cy="247" r="5.7"/></g>
<g id="a66"><circle class="nl" cx="311" cy="312" r="5.7"/></g>
<g id="a67"><circle class="nl" cx="358" cy="258" r="5.7"/></g>
<g id="a68"><circle class="nl" cx="378" cy="259" r="5.7"/></g>
<g id="c1"><circle class="nl" cx="142" cy="128" r="5.7"/></g>
<g id="c2"><circle class="nl" cx="167" cy="118" r="5.7"/></g>
<g id="c3"><circle class="nl" cx="182" cy="119" r="5.7"/></g>
<g id="c4"><circle class="nl" cx="200" cy="130" r="5.7"/></g>
<g id="c5"><circle class="nl" cx="218" cy="139" r="5.7"/></g>
<g id="c6"><circle class="nl" cx="228" cy="130" r="5.7"/></g>
<g id="c7"><circle class="nl" cx="245" cy="130" r="5.7"/></g>
<g id="c8"><circle class="nl" cx="249" cy="144" r="5.7"/></g>
<g id="c9"><circle class="nl" cx="263" cy="147" r="5.7"/></g>
<g id="c10"><circle class="nl" cx="272" cy="145" r="5.7"/></g>
<g id="c11"><circle class="nl" cx="231" cy="119" r="5.7"/></g>
<g id="c12"><circle class="nl" cx="213" cy="112" r="5.7"/></g>
<g id="c13"><circle class="nl" cx="142" cy="139" r="5.7"/></g>
<g id="c14"><circle class="nl" cx="167" cy="129" r="5.7"/></g>
<g id="c15"><circle class="nl" cx="183" cy="145" r="5.7"/></g>
<g id="c16"><circle class="nl" cx="193" cy="143" r="5.7"/></g>
<g id="c17"><circle class="nl" cx="207" cy="150" r="5.7"/></g>
<g id="c18"><circle class="nl" cx="137" cy="150" r="5.7"/></g>
<g id="c19"><circle class="nl" cx="157" cy="147" r="5.7"/></g>
<g id="c20"><circle class="nl" cx="170" cy="157" r="5.7"/></g>
<g id="c21"><circle class="nl" cx="187" cy="158" r="5.7"/></g>
<g id="c22"><circle class="nl" cx="203" cy="159" r="5.7"/></g>
<g id="c23"><circle class="nl" cx="228" cy="155" r="5.7"/></g>
<g id="c24"><circle class="nl" cx="242" cy="160" r="5.7"/></g>
<g id="c25"><circle class="nl" cx="118" cy="160" r="5.7"/></g>
<g id="c26"><circle class="nl" cx="98" cy="147" r="5.7"/></g>
<g id="c27"><circle class="nl" cx="94" cy="164" r="5.7"/></g>
<g id="c28"><circle class="nl" cx="107" cy="173" r="5.7"/></g>
<g id="c29"><circle class="nl" cx="132" cy="170" r="5.7"/></g>
<g id="c30"><circle class="nl" cx="147" cy="180" r="5.7"/></g>
<g id="c31"><circle class="nl" cx="160" cy="172" r="5.7"/></g>
<g id="c32"><circle class="nl" cx="178" cy="173" r="5.7"/></g>
<g id="c33"><circle class="nl" cx="193" cy="167" r="5.7"/></g>
<g id="c34"><circle class="nl" cx="210" cy="173" r="5.7"/></g>
<g id="c35"><circle class="nl" cx="232" cy="167" r="5.7"/></g>
<g id="c36"><circle class="nl" cx="247" cy="172" r="5.7"/></g>
<g id="c37"><circle class="nl" cx="230" cy="182" r="5.7"/></g>
<g id="c38"><circle class="nl" cx="132" cy="185" r="5.7"/></g>
<g id="c39"><circle class="nl" cx="147" cy="190" r="5.7"/></g>
<g id="c40"><circle class="nl" cx="165" cy="192" r="5.7"/></g>
<g id="c41"><circle class="nl" cx="180" cy="195" r="5.7"/></g>
<g id="c42"><circle class="nl" cx="193" cy="197" r="5.7"/></g>
<g id="c43"><circle class="nl" cx="208" cy="187" r="5.7"/></g>
<g id="c44"><circle class="nl" cx="117" cy="193" r="5.7"/></g>
<g id="c45"><circle class="nl" cx="117" cy="203" r="5.7"/></g>
<g id="c46"><circle class="nl" cx="143" cy="198" r="5.7"/></g>
<g id="c47"><circle class="nl" cx="163" cy="202" r="5.7"/></g>
<g id="c48"><circle class="nl" cx="200" cy="200" r="5.7"/></g>
<g id="c49"><circle class="nl" cx="217" cy="200" r="5.7"/></g>
<g id="c50"><circle class="nl" cx="230" cy="192" r="5.7"/></g>
<g id="c51"><circle class="nl" cx="148" cy="210" r="5.7"/></g>
<g id="c52"><circle class="nl" cx="157" cy="208" r="5.7"/></g>
<g id="c53"><circle class="nl" cx="173" cy="210" r="5.7"/></g>
<g id="c54"><circle class="nl" cx="183" cy="214" r="5.7"/></g>
<g id="c55"><circle class="nl" cx="198" cy="213" r="5.7"/></g>
<g id="c56"><circle class="nl" cx="209" cy="211" r="5.7"/></g>
<g id="c57"><circle class="nl" cx="238" cy="215" r="5.7"/></g>
<g id="c58"><circle class="nl" cx="133" cy="212" r="5.7"/></g>
<g id="c59"><circle class="nl" cx="100" cy="219" r="5.7"/></g>
<g id="c60"><circle class="nl" cx="116" cy="225" r="5.7"/></g>
<g id="c61"><circle class="nl" cx="137" cy="232" r="5.7"/></g>
<g id="c62"><circle class="nl" cx="147" cy="227" r="5.7"/></g>
<g id="c63"><circle class="nl" cx="153" cy="232" r="5.7"/></g>
<g id="c64"><circle class="nl" cx="163" cy="222" r="5.7"/></g>
<g id="c65"><circle class="nl" cx="197" cy="222" r="5.7"/></g>
<g id="c66"><circle class="nl" cx="197" cy="231" r="5.7"/></g>
<g id="c67"><circle class="nl" cx="218" cy="221" r="5.7"/></g>
<g id="c68"><circle class="nl" cx="245" cy="225" r="5.7"/></g>
<g id="c69"><circle class="nl" cx="116" cy="242" r="5.7"/></g>
<g id="c70"><circle class="nl" cx="143" cy="238" r="5.7"/></g>
<g id="c71"><circle class="nl" cx="178" cy="240" r="5.7"/></g>
<g id="c72"><circle class="nl" cx="205" cy="241" r="5.7"/></g>
<g id="c73"><circle class="nl" cx="220" cy="251" r="5.7"/></g>
<g id="c74"><circle class="nl" cx="177" cy="250" r="5.7"/></g>
<g id="c75"><circle class="nl" cx="128" cy="128" r="5.7"/></g>
<g id="c76"><circle class="nl" cx="155" cy="136" r="5.7"/></g>
<g id="c77"><circle class="nl" cx="170" cy="145" r="5.7"/></g>
<g id="c80"><circle class="nl" cx="106" cy="147" r="5.7"/></g>
</g>

<g id="nodesR">
<g id="p0"><circle class="pk" cx="608" cy="116" r="5.5"/></g>
<g id="p1"><circle class="pu" cx="580" cy="69" r="5.5"/></g>
<g id="p2"><circle class="pu" cx="597" cy="67" r="5.5"/></g>
<g id="p3"><circle class="pu" cx="613" cy="67" r="5.5"/></g>
<g id="p4"><circle class="pu" cx="570" cy="82" r="5.5"/></g>
<g id="p5"><circle class="pu" cx="590" cy="87" r="5.5"/></g>
<g id="p6"><circle class="pu" cx="610" cy="88" r="5.5"/></g>
<g id="p7"><circle class="pu" cx="627" cy="81" r="5.5"/></g>
<g id="p8"><circle class="pu" cx="559" cy="94" r="5.5"/></g>
<g id="p9"><circle class="pu" cx="577" cy="102" r="5.5"/></g>
<g id="p10"><circle class="pu" cx="558" cy="112" r="5.5"/></g>
<g id="p11"><circle class="pu" cx="577" cy="120" r="5.5"/></g>
<g id="p12"><circle class="pu" cx="629" cy="113" r="5.5"/></g>
<g id="p13"><circle class="pu" cx="562" cy="133" r="5.5"/></g>
<g id="p14"><circle class="pu" cx="578" cy="147" r="5.5"/></g>
<g id="p15"><circle class="pu" cx="592" cy="154" r="5.5"/></g>
<g id="p16"><circle class="pu" cx="607" cy="147" r="5.5"/></g>
<g id="pa"><circle class="pu" cx="643" cy="47" r="5.5"/></g>
<g id="ra"><circle class="rd" cx="664" cy="48" r="5.5"/></g>
<g id="ph"><circle class="pu" cx="652" cy="89" r="5.5"/></g>
<g id="q1"><circle class="pk" cx="557" cy="165" r="5.5"/></g>
<g id="q2"><circle class="pk" cx="544" cy="179" r="5.5"/></g>
<g id="q0"><circle class="pk" cx="582" cy="187" r="5.5"/></g>
<g id="q3"><circle class="pk" cx="491" cy="184" r="5.5"/></g>
<g id="q4"><circle class="pk" cx="478" cy="203" r="5.5"/></g>
<g id="q5"><circle class="pk" cx="480" cy="221" r="5.5"/></g>
<g id="q6"><circle class="pk" cx="489" cy="239" r="5.5"/></g>
<g id="q7"><circle class="pk" cx="510" cy="239" r="5.5"/></g>
<g id="q8"><circle class="pk" cx="530" cy="234" r="5.5"/></g>
<g id="q9"><circle class="pk" cx="533" cy="249" r="5.5"/></g>
<g id="q10"><circle class="pk" cx="564" cy="233" r="5.5"/></g>
<g id="q11"><circle class="pk" cx="586" cy="224" r="5.5"/></g>
<g id="q12"><circle class="pk" cx="568" cy="200" r="5.5"/></g>
<g id="q13"><circle class="pu" cx="540" cy="197" r="5.5"/></g>
<g id="q14"><circle class="pu" cx="558" cy="219" r="5.5"/></g>
<g id="q15"><circle class="bl" cx="542" cy="215" r="5.5"/></g>
<g id="q16"><circle class="rd" cx="520" cy="210" r="5.5"/></g>
<g id="r1"><circle class="rd" cx="638" cy="172" r="5.5"/></g>
<g id="r2"><circle class="rd" cx="674" cy="180" r="5.5"/></g>
<g id="u1"><circle class="pu" cx="648" cy="183" r="5.5"/></g>
<g id="u2"><circle class="pu" cx="667" cy="165" r="5.5"/></g>
<g id="r3"><circle class="rd" cx="622" cy="208" r="5.5"/></g>
<g id="r4"><circle class="rd" cx="636" cy="212" r="5.5"/></g>
<g id="r6"><circle class="rd" cx="631" cy="222" r="5.5"/></g>
<g id="r7"><circle class="rd" cx="638" cy="231" r="5.5"/></g>
<g id="r5"><circle class="rd" cx="658" cy="219" r="5.5"/></g>
<g id="r8"><circle class="rd" cx="658" cy="234" r="5.5"/></g>
<g id="r9"><circle class="rd" cx="648" cy="247" r="5.5"/></g>
<g id="u3"><circle class="pu" cx="657" cy="202" r="5.5"/></g>
<g id="u4"><circle class="pu" cx="663" cy="207" r="5.5"/></g>
<g id="r10"><circle class="rd" cx="686" cy="201" r="5.5"/></g>
<g id="r11"><circle class="rd" cx="684" cy="217" r="5.5"/></g>
<g id="r12"><circle class="rd" cx="703" cy="207" r="5.5"/></g>
<g id="g1"><circle class="gr" cx="673" cy="229" r="5.5"/></g>
<g id="b1"><circle class="bl" cx="692" cy="74" r="5.5"/></g>
<g id="b2"><circle class="bl" cx="716" cy="77" r="5.5"/></g>
<g id="b3"><circle class="bl" cx="702" cy="92" r="5.5"/></g>
<g id="b4"><circle class="bl" cx="718" cy="102" r="5.5"/></g>
<g id="b5"><circle class="bl" cx="668" cy="106" r="5.5"/></g>
<g id="b6"><circle class="bl" cx="683" cy="106" r="5.5"/></g>
<g id="bh"><circle class="bl" cx="698" cy="123" r="5.5"/></g>
<g id="b7"><circle class="bl" cx="668" cy="126" r="5.5"/></g>
<g id="b8"><circle class="bl" cx="661" cy="138" r="5.5"/></g>
<g id="b9"><circle class="bl" cx="676" cy="143" r="5.5"/></g>
<g id="b10"><circle class="bl" cx="678" cy="155" r="5.5"/></g>
<g id="b11"><circle class="bl" cx="698" cy="165" r="5.5"/></g>
<g id="b12"><circle class="bl" cx="716" cy="163" r="5.5"/></g>
<g id="b13"><circle class="bl" cx="685" cy="170" r="5.5"/></g>
<g id="b14"><circle class="bl" cx="734" cy="152" r="5.5"/></g>
<g id="y1"><circle class="ye" cx="683" cy="131" r="5.5"/></g>
<g id="k1"><circle class="pk" cx="704" cy="131" r="5.5"/></g>
<g id="k2"><circle class="pk" cx="699" cy="141" r="5.5"/></g>
<g id="g2"><circle class="gr" cx="688" cy="146" r="5.5"/></g>
<g id="u5"><circle class="pu" cx="713" cy="178" r="5.5"/></g>
<g id="yh"><circle class="ye" cx="771" cy="104" r="5.5"/></g>
<g id="y2"><circle class="ye" cx="755" cy="65" r="5.5"/></g>
<g id="y3"><circle class="ye" cx="774" cy="53" r="5.5"/></g>
<g id="y4"><circle class="ye" cx="795" cy="60" r="5.5"/></g>
<g id="y5"><circle class="ye" cx="775" cy="72" r="5.5"/></g>
<g id="y6"><circle class="ye" cx="812" cy="72" r="5.5"/></g>
<g id="y7"><circle class="ye" cx="793" cy="81" r="5.5"/></g>
<g id="y8"><circle class="ye" cx="809" cy="91" r="5.5"/></g>
<g id="y9"><circle class="ye" cx="818" cy="106" r="5.5"/></g>
<g id="y10"><circle class="ye" cx="752" cy="127" r="5.5"/></g>
<g id="y11"><circle class="ye" cx="768" cy="131" r="5.5"/></g>
<g id="y12"><circle class="ye" cx="753" cy="141" r="5.5"/></g>
<g id="y13"><circle class="ye" cx="771" cy="146" r="5.5"/></g>
<g id="y14"><circle class="ye" cx="791" cy="145" r="5.5"/></g>
<g id="y15"><circle class="ye" cx="803" cy="161" r="5.5"/></g>
<g id="y16"><circle class="ye" cx="822" cy="172" r="5.5"/></g>
<g id="k3"><circle class="pk" cx="801" cy="123" r="5.5"/></g>
<g id="g3"><circle class="gr" cx="732" cy="123" r="5.5"/></g>
<g id="g4"><circle class="gr" cx="739" cy="177" r="5.5"/></g>
<g id="g5"><circle class="gr" cx="762" cy="170" r="5.5"/></g>
<g id="g6"><circle class="gr" cx="762" cy="183" r="5.5"/></g>
<g id="g7"><circle class="gr" cx="792" cy="178" r="5.5"/></g>
<g id="g8"><circle class="gr" cx="806" cy="186" r="5.5"/></g>
<g id="k4"><circle class="pk" cx="830" cy="187" r="5.5"/></g>
<g id="g9"><circle class="gr" cx="734" cy="196" r="5.5"/></g>
<g id="g10"><circle class="gr" cx="747" cy="191" r="5.5"/></g>
<g id="g11"><circle class="gr" cx="762" cy="197" r="5.5"/></g>
<g id="gh"><circle class="gr" cx="775" cy="196" r="5.5"/></g>
<g id="g13"><circle class="gr" cx="745" cy="205" r="5.5"/></g>
<g id="g14"><circle class="gr" cx="764" cy="209" r="5.5"/></g>
<g id="g15"><circle class="gr" cx="784" cy="211" r="5.5"/></g>
<g id="k5"><circle class="pk" cx="801" cy="203" r="5.5"/></g>
<g id="g17"><circle class="gr" cx="822" cy="202" r="5.5"/></g>
<g id="g18"><circle class="gr" cx="830" cy="215" r="5.5"/></g>
<g id="g16"><circle class="gr" cx="797" cy="221" r="5.5"/></g>
<g id="g19"><circle class="gr" cx="818" cy="227" r="5.5"/></g>
<g id="g20"><circle class="gr" cx="793" cy="235" r="5.5"/></g>
<g id="g21"><circle class="gr" cx="810" cy="243" r="5.5"/></g>
<g id="g22"><circle class="gr" cx="780" cy="246" r="5.5"/></g>
<g id="g23"><circle class="gr" cx="763" cy="248" r="5.5"/></g>
<g id="g24"><circle class="gr" cx="752" cy="235" r="5.5"/></g>
<g id="g25"><circle class="gr" cx="767" cy="232" r="5.5"/></g>
<g id="g26"><circle class="gr" cx="778" cy="227" r="5.5"/></g>
<g id="g27"><circle class="gr" cx="719" cy="217" r="5.5"/></g>
<g id="rg"><circle class="rd" cx="743" cy="223" r="5.5"/></g>
<g id="g28"><circle class="gr" cx="721" cy="259" r="5.5"/></g>
<g id="g29"><circle class="gr" cx="738" cy="269" r="5.5"/></g>
<g id="g30"><circle class="gr" cx="758" cy="270" r="5.5"/></g>
</g>

<g id="captions">
<text class="cap" x="91" y="351">(a)</text>
<text class="cap" x="146" y="351" textLength="164" lengthAdjust="spacing">低ランク近似なし</text>
<text class="cap" x="555" y="351">(b)</text>
<text class="cap" x="609" y="351" textLength="143" lengthAdjust="spacing">低ランク近似後</text>
<text class="cap" x="271" y="393">図</text>
<text class="cap" x="296" y="393">5</text>
<text class="cap" x="331" y="393" textLength="247" lengthAdjust="spacing">影響力構造の可視化結果</text>
</g>
</svg>
